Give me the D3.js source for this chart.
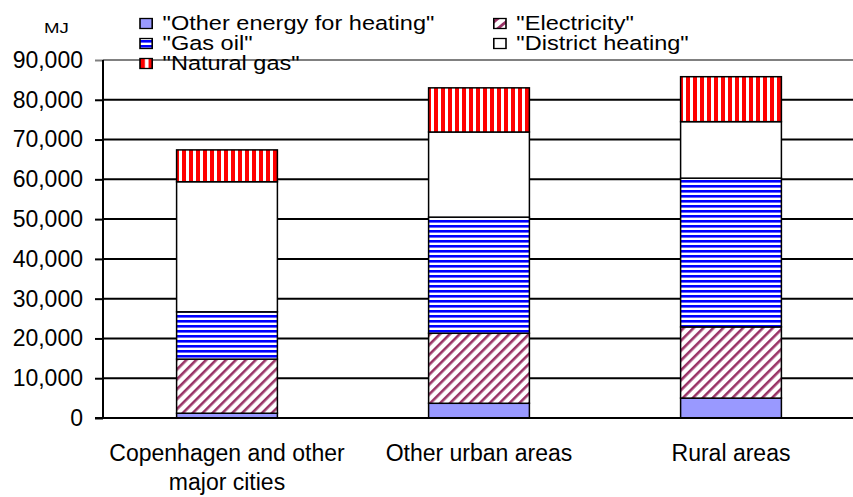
<!DOCTYPE html>
<html>
<head>
<meta charset="utf-8">
<script src="https://cdn.jsdelivr.net/npm/d3@7"></script>
<style>
  body { margin: 0; background: #fff; }
  svg { display: block; font-family: "Liberation Sans", Arial, sans-serif; }
</style>
</head>
<body>
<svg width="853" height="497"></svg>
<script>
// data (MJ per household)
var categories = ["Copenhagen and other major cities", "Other urban areas", "Rural areas"];
var categoryLines = [["Copenhagen and other", "major cities"], ["Other urban areas"], ["Rural areas"]];
var otherEnergy = [1200, 3700, 5000];
var electricity = [13600, 17600, 17900];
var gasOil = [11900, 29200, 37400];
var districtHeating = [32700, 21400, 14200];
var naturalGas = [8000, 11100, 11300];
var seriesNames = ['"Other energy for heating"', '"Electricity"', '"Gas oil"', '"District heating"', '"Natural gas"'];
var yTicks = [0, 10000, 20000, 30000, 40000, 50000, 60000, 70000, 80000, 90000];

var svg = d3.select("svg"),
	width = +svg.attr("width"),
	height = +svg.attr("height");

var fills = ["#9999ff", "url(#diag)", "url(#hstripe)", "#ffffff", "url(#vstripe)"];

// patterns
var defs = svg.append("defs");
var diag = defs.append("pattern").attr("id", "diag")
	.attr("patternUnits", "userSpaceOnUse")
	.attr("width", 7).attr("height", 7)
	.attr("patternTransform", "rotate(45)");
diag.append("rect").attr("width", 7).attr("height", 7).attr("fill", "#fff");
diag.append("rect").attr("width", 2.6).attr("height", 7).attr("fill", "#993366");

var hs = defs.append("pattern").attr("id", "hstripe")
	.attr("patternUnits", "userSpaceOnUse")
	.attr("width", 5).attr("height", 5);
hs.append("rect").attr("width", 5).attr("height", 5).attr("fill", "#fff");
hs.append("rect").attr("width", 5).attr("height", 2.6).attr("fill", "#0000ff");

var vs = defs.append("pattern").attr("id", "vstripe")
	.attr("patternUnits", "userSpaceOnUse")
	.attr("width", 7).attr("height", 7);
vs.append("rect").attr("width", 7).attr("height", 7).attr("fill", "#fff");
vs.append("rect").attr("width", 4).attr("height", 7).attr("fill", "#ff0000");

// scales
var x = d3.scaleBand().domain(categories).range([101, 857]).paddingInner(0.6).paddingOuter(0.3);
var y = d3.scaleLinear().domain([0, 90000]).range([418, 60]);

// gridlines
svg.append("g")
	.selectAll("line")
	.data(yTicks)
	.enter().append("line")
	.attr("x1", 103).attr("x2", width)
	.attr("y1", function (d) { return y(d); })
	.attr("y2", function (d) { return y(d); })
	.style("stroke", function (d) { return d == 90000 ? "#808080" : "#000"; })
	.style("stroke-width", 2);

// stacked bars
var table = categories.map(function (c, i) {
	return { cat: c, s0: otherEnergy[i], s1: electricity[i], s2: gasOil[i], s3: districtHeating[i], s4: naturalGas[i] };
});
var stack = d3.stack().keys(["s0", "s1", "s2", "s3", "s4"]);
var layers = stack(table);

svg.append("g")
	.selectAll("g")
	.data(layers)
	.enter().append("g")
	.attr("fill", function (d, i) { return fills[i]; })
	.selectAll("rect")
	.data(function (d) { return d; })
	.enter().append("rect")
	.attr("x", function (d) { return x(d.data.cat); })
	.attr("width", x.bandwidth())
	.attr("y", function (d) { return y(d[1]); })
	.attr("height", function (d) { return y(d[0]) - y(d[1]); })
	.style("stroke", "#000")
	.style("stroke-width", 1.5);

// y axis
var yAxis = svg.append("g")
	.attr("transform", "translate(103,0)")
	.call(d3.axisLeft(y).tickValues(yTicks).tickFormat(d3.format(",")).tickSize(8).tickPadding(12));
yAxis.select(".domain").remove();
yAxis.selectAll(".tick line").style("stroke", function (d) { return d == 90000 ? "#808080" : "#000"; }).style("stroke-width", 2);
yAxis.selectAll("text").style("font-size", "23px").style("fill", "#000")
	.style("font-family", '"Liberation Sans", Arial, sans-serif');
svg.append("line").attr("x1", 103).attr("x2", 103).attr("y1", y(90000)).attr("y2", y(0))
	.style("stroke", "#000").style("stroke-width", 2);
svg.append("line").attr("x1", 95).attr("x2", width).attr("y1", y(0)).attr("y2", y(0))
	.style("stroke", "#000").style("stroke-width", 2);

// category labels
var cl = svg.append("g").selectAll("text")
	.data(categories)
	.enter().append("text")
	.attr("text-anchor", "middle")
	.style("font-size", "23px")
	.attr("x", function (d) { return x(d) + x.bandwidth() / 2; })
	.attr("y", 461);
cl.selectAll("tspan")
	.data(function (d, i) { return categoryLines[i]; })
	.enter().append("tspan")
	.attr("x", function () { var p = d3.select(this.parentNode); return p.attr("x"); })
	.attr("dy", function (d, i) { return i == 0 ? 0 : 29; })
	.text(function (d) { return d; });

// legend (the original is stretched sideways)
svg.append("rect").attr("x", 110).attr("y", 0).attr("width", 708).attr("height", 59).attr("fill", "#fff");
var leg = svg.append("g").attr("transform", "translate(140,0) scale(1.22,1)");
var legPos = [[0, 30], [290, 30], [0, 50], [290, 50], [0, 70]];
var legItem = leg.selectAll("g")
	.data(seriesNames)
	.enter().append("g")
	.attr("transform", function (d, i) { return "translate(" + legPos[i][0] + "," + legPos[i][1] + ")"; });
legItem.append("rect")
	.attr("x", 0).attr("y", -11.5).attr("width", 10).attr("height", 10)
	.attr("fill", function (d, i) { return fills[i]; })
	.style("stroke", "#000").style("stroke-width", 1.3);
legItem.append("text")
	.attr("x", 18.5).attr("y", 0)
	.style("font-size", "19.3px")
	.text(function (d) { return d; });

svg.append("text")
	.attr("transform", "translate(44,33) scale(1.2,1)")
	.style("font-size", "15.5px")
	.text("MJ");
</script>
</body>
</html>
